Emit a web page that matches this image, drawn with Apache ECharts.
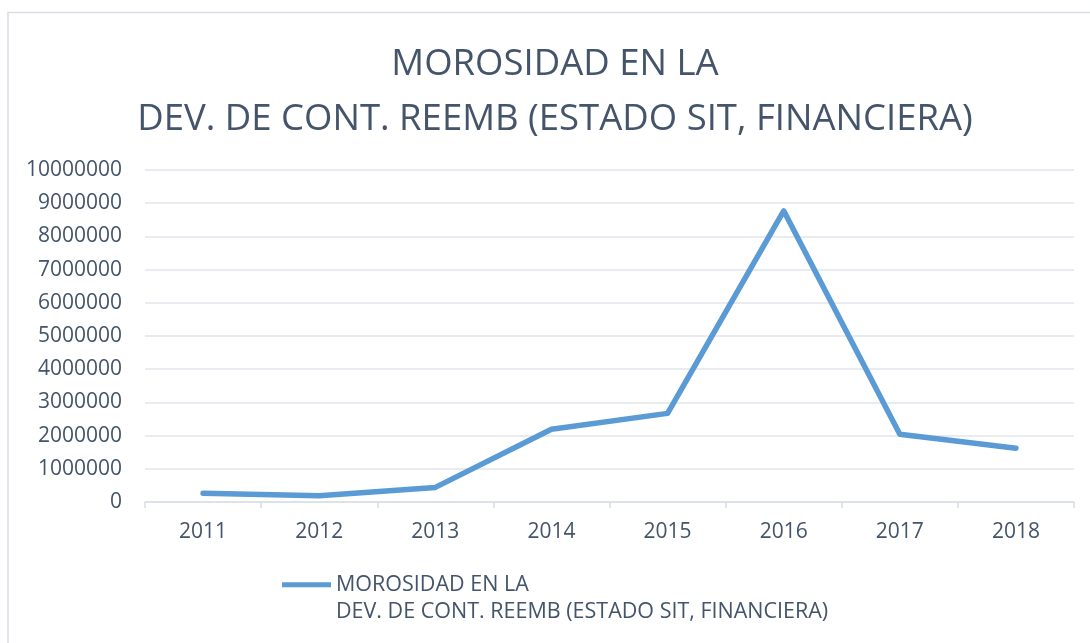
<!DOCTYPE html>
<html>
<head>
<meta charset="utf-8">
<script src="https://cdn.jsdelivr.net/npm/echarts@6/dist/echarts.min.js"></script>
<style>
  html, body { margin: 0; padding: 0; background: #fff; }
  #chart { width: 1090px; height: 643px; }
</style>
</head>
<body>
<div id="chart"></div>
<script>
var titleText = 'MOROSIDAD EN LA\nDEV. DE CONT. REEMB (ESTADO SIT, FINANCIERA)';
var seriesName = 'MOROSIDAD EN LA\nDEV. DE CONT. REEMB (ESTADO SIT, FINANCIERA)';
var years = ['2011', '2012', '2013', '2014', '2015', '2016', '2017', '2018'];
var morosidad = [260000, 190000, 440000, 2190000, 2670000, 8770000, 2040000, 1620000];

var textColor = '#44546A';
var fontFam = '"Open Sans", "Noto Sans", sans-serif';

var myChart = echarts.init(document.getElementById('chart'));
myChart.setOption({
    animation: false,
    backgroundColor: '#fff',
    graphic: [{
        type: 'rect',
        shape: { x: 8, y: 12.5, width: 1200, height: 800 },
        style: { fill: 'none', stroke: '#D9DEE5', lineWidth: 1.5 },
        silent: true
    }],
    title: {
        text: titleText,
        left: 550,
        textAlign: 'center',
        top: 32,
        textStyle: {
            color: textColor,
            fontFamily: fontFam,
            fontWeight: 'normal',
            fontSize: 36.5,
            lineHeight: 55
        }
    },
    legend: {
        left: 277,
        top: 566,
        itemWidth: 49,
        itemHeight: 32,
        // line sits at the top of the icon box so it lines up with the first text line
        icon: 'path://M0,0H50V5H0Z M0,32h0.01v-0.01z',
        textStyle: {
            color: textColor,
            fontFamily: fontFam,
            fontSize: 21.5,
            lineHeight: 27
        },
        data: [seriesName]
    },
    grid: {
        left: 145,
        right: 16,
        top: 170,
        bottom: 141,
        containLabel: false
    },
    xAxis: {
        type: 'category',
        data: years,
        boundaryGap: true,
        axisLine: { lineStyle: { color: '#D9DEE5', width: 1.5 } },
        axisTick: { show: true, length: 6, lineStyle: { color: '#D9DEE5', width: 1.5 } },
        axisLabel: {
            color: textColor,
            fontFamily: fontFam,
            fontSize: 21,
            margin: 20
        },
        splitLine: { show: false }
    },
    yAxis: {
        type: 'value',
        min: 0,
        max: 10000000,
        interval: 1000000,
        axisLine: { show: false },
        axisTick: { show: false },
        axisLabel: {
            color: textColor,
            fontFamily: fontFam,
            fontSize: 21,
            margin: 23,
            formatter: function (v) { return String(v); }
        },
        splitLine: { lineStyle: { color: '#E1E5EB', width: 1.5 } }
    },
    series: [{
        name: seriesName,
        type: 'line',
        data: morosidad,
        symbol: 'none',
        color: '#5B9BD5',
        lineStyle: { color: '#5B9BD5', width: 5.5, cap: 'round', join: 'round' }
    }]
});
</script>
</body>
</html>
